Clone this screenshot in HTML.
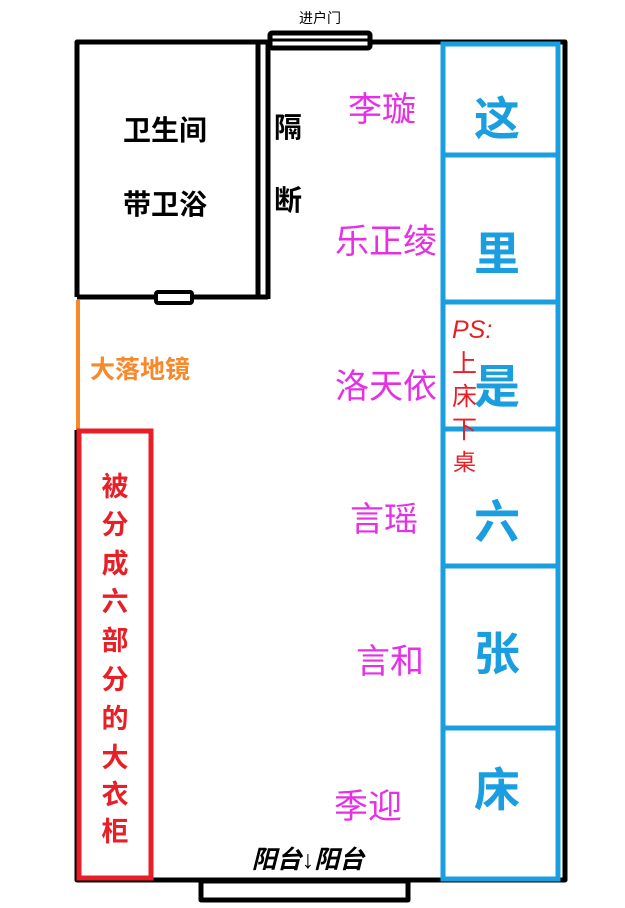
<!DOCTYPE html>
<html><head><meta charset="utf-8"><style>
html,body{margin:0;padding:0;background:#fff;}
svg{display:block}
text{font-family:"Liberation Sans","Noto Sans CJK SC",sans-serif;}
</style></head><body>
<svg width="625" height="908" viewBox="0 0 625 908" xmlns="http://www.w3.org/2000/svg">
<rect width="625" height="908" fill="#fff"/>
<g stroke="#000" stroke-width="5" fill="none" stroke-linejoin="round">
<polyline points="77,297 77,42 565,42 565,880 77,880 77,430"/>
<line x1="77" y1="297" x2="268" y2="297"/>
<line x1="258" y1="42" x2="258" y2="299"/>
<line x1="268" y1="42" x2="268" y2="299"/>
<rect x="270" y="33" width="100" height="15" rx="2" fill="#fff"/>
<line x1="270" y1="40" x2="370" y2="40" stroke-width="3"/>
<rect x="156" y="292" width="36" height="11" rx="2" fill="#fff" stroke-width="4"/>
<rect x="201" y="881" width="207" height="19" fill="#fff" stroke-width="5"/>
</g>
<line x1="78" y1="300" x2="78" y2="430" stroke="#f7892b" stroke-width="4"/>
<rect x="79" y="431" width="72" height="447" fill="#fff" stroke="#e81f27" stroke-width="5"/>
<g stroke="#1a9ee0" stroke-width="5" fill="none">
<rect x="443" y="44" width="115" height="835" fill="#fff"/>
<line x1="443" y1="155" x2="558" y2="155"/>
<line x1="443" y1="302" x2="558" y2="302"/>
<line x1="443" y1="429" x2="558" y2="429"/>
<line x1="443" y1="566" x2="558" y2="566"/>
<line x1="443" y1="728" x2="558" y2="728"/>
</g>
<g fill="#1a9ee0" font-size="46" text-anchor="middle" font-weight="bold">
<text x="497" y="135">这</text>
<text x="497" y="270">里</text>
<text x="497" y="403">是</text>
<text x="497" y="538">六</text>
<text x="497" y="670">张</text>
<text x="497" y="806">床</text>
</g>
<g fill="#e81f27" font-size="25">
<text x="452" y="338" font-style="italic">PS:</text>
<text x="452" y="372">上</text>
<text x="452" y="405">床</text>
<text x="452" y="438">下</text>
<text x="453" y="470" font-size="23">桌</text>
</g>
<g fill="#e630e6" font-size="34" text-anchor="middle">
<text x="382" y="121">李璇</text>
<text x="386" y="253">乐正绫</text>
<text x="386" y="398">洛天依</text>
<text x="384" y="531">言瑶</text>
<text x="390" y="673">言和</text>
<text x="368" y="818">季迎</text>
</g>
<g fill="#000" font-size="28" text-anchor="middle" font-weight="bold">
<text x="165" y="140">卫生间</text>
<text x="165" y="214">带卫浴</text>
<text x="288" y="137">隔</text>
<text x="288" y="210">断</text>
</g>
<text x="320" y="23" font-size="14" text-anchor="middle" fill="#000">进户门</text>
<text x="308" y="868" font-size="25" text-anchor="middle" fill="#000" font-style="italic" font-weight="bold">阳台↓阳台</text>
<text x="90" y="378" font-size="25" fill="#f7892b" font-weight="bold">大落地镜</text>
<g fill="#e81f27" font-size="27" text-anchor="middle" font-weight="bold">
<text x="115" y="496">被</text>
<text x="115" y="534">分</text>
<text x="115" y="573">成</text>
<text x="115" y="611">六</text>
<text x="115" y="650">部</text>
<text x="115" y="689">分</text>
<text x="115" y="728">的</text>
<text x="115" y="767">大</text>
<text x="115" y="804">衣</text>
<text x="115" y="841">柜</text>
</g>
</svg>
</body></html>
